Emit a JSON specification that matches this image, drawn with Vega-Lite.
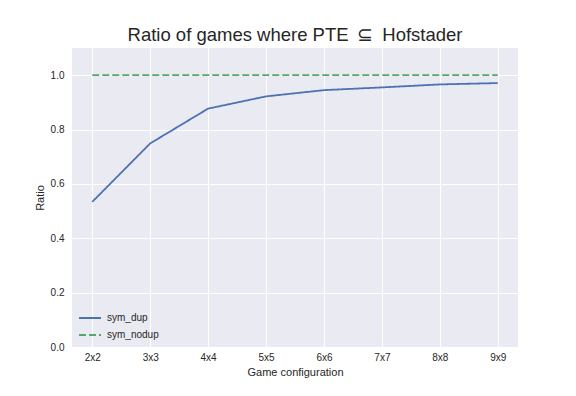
{
  "$schema": "https://vega.github.io/schema/vega-lite/v6.json",
  "width": 446,
  "height": 299,
  "autosize": {"type": "none"},
  "padding": {"left": 72, "top": 48, "right": 58, "bottom": 49},
  "background": "white",
  "title": {"text": "Ratio of games where PTE \u2009\u2286\u2009 Hofstader", "fontSize": 18.5, "font": "Liberation Sans", "fontWeight": "normal", "color": "#262626", "anchor": "middle", "offset": -15, "baseline": "bottom", "frame": "group"},
  "config": {
    "view": {"fill": "#EAEAF2", "stroke": null},
    "axis": {"grid": true, "gridColor": "white", "gridWidth": 1, "domain": false, "ticks": false, "labelFont": "Liberation Sans", "labelFontSize": 10, "labelColor": "#262626", "titleFont": "Liberation Sans", "titleFontSize": 11, "titleFontWeight": "normal", "titleColor": "#262626"},
    "legend": {"labelFont": "Liberation Sans", "labelFontSize": 10, "labelColor": "#262626"}
  },
  "data": {"values": [
    {"config": "2x2", "series": "sym_dup", "ratio": 0.534},
    {"config": "3x3", "series": "sym_dup", "ratio": 0.749},
    {"config": "4x4", "series": "sym_dup", "ratio": 0.877},
    {"config": "5x5", "series": "sym_dup", "ratio": 0.922},
    {"config": "6x6", "series": "sym_dup", "ratio": 0.945},
    {"config": "7x7", "series": "sym_dup", "ratio": 0.955},
    {"config": "8x8", "series": "sym_dup", "ratio": 0.966},
    {"config": "9x9", "series": "sym_dup", "ratio": 0.971},
    {"config": "2x2", "series": "sym_nodup", "ratio": 1.0},
    {"config": "3x3", "series": "sym_nodup", "ratio": 1.0},
    {"config": "4x4", "series": "sym_nodup", "ratio": 1.0},
    {"config": "5x5", "series": "sym_nodup", "ratio": 1.0},
    {"config": "6x6", "series": "sym_nodup", "ratio": 1.0},
    {"config": "7x7", "series": "sym_nodup", "ratio": 1.0},
    {"config": "8x8", "series": "sym_nodup", "ratio": 1.0},
    {"config": "9x9", "series": "sym_nodup", "ratio": 1.0}
  ]},
  "mark": {"type": "line", "strokeWidth": 1.8},
  "encoding": {
    "x": {"field": "config", "type": "ordinal", "scale": {"type": "point", "padding": 0.35}, "axis": {"title": "Game configuration", "labelAngle": 0, "labelPadding": 5, "titlePadding": 4}},
    "y": {"field": "ratio", "type": "quantitative", "scale": {"domain": [0, 1.1], "nice": false}, "axis": {"title": "Ratio", "values": [0, 0.2, 0.4, 0.6, 0.8, 1.0], "format": ".1f", "labelPadding": 8, "titlePadding": 5}},
    "color": {"field": "series", "type": "nominal", "scale": {"domain": ["sym_dup", "sym_nodup"], "range": ["#4C72B0", "#55A868"]}, "legend": {"title": null, "orient": "none", "legendX": 6, "legendY": 258, "symbolType": "stroke", "symbolSize": 484, "symbolStrokeWidth": 1.8, "rowPadding": -8, "labelOffset": 5}},
    "strokeDash": {"field": "series", "type": "nominal", "scale": {"domain": ["sym_dup", "sym_nodup"], "range": [[1, 0], [7, 3]]}, "legend": {"title": null, "orient": "none", "legendX": 6, "legendY": 258, "symbolType": "stroke", "symbolSize": 484, "symbolStrokeWidth": 1.8, "rowPadding": -8, "labelOffset": 5}}
  }
}
